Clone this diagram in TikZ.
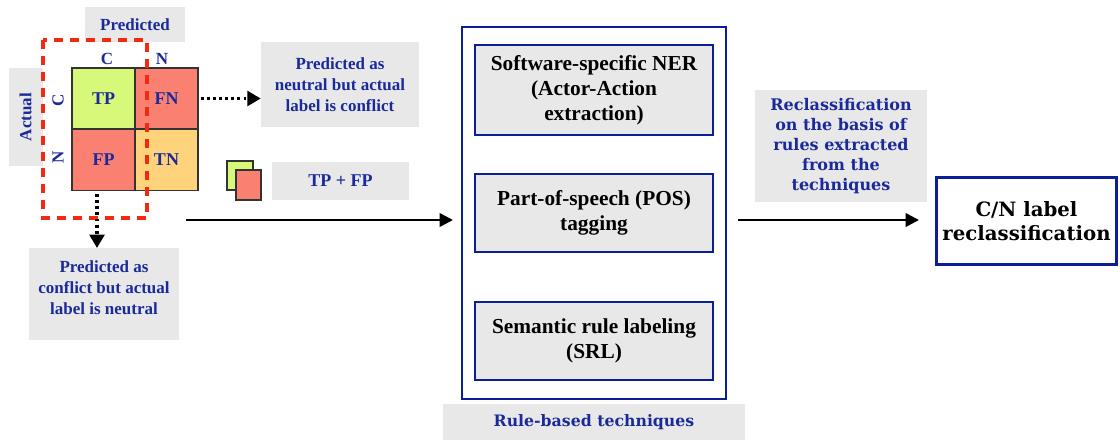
\documentclass[tikz,border=0pt]{standalone}
\usepackage{fontspec}
\setmainfont{Liberation Serif}
\newfontfamily\geo{DejaVu Serif}
\usetikzlibrary{arrows.meta}
\definecolor{gbg}{HTML}{E8E8E8}
\definecolor{tblue}{HTML}{1A2A9A}
\definecolor{bblue}{HTML}{0A1E96}
\definecolor{cgreen}{HTML}{D8F87A}
\definecolor{csalmon}{HTML}{FA8072}
\definecolor{corange}{HTML}{FFD27C}
\definecolor{dred}{HTML}{F22A10}
\tikzset{
  gbox/.style={fill=gbg, draw=none, inner sep=0pt, align=center, text=tblue,
    font=\fontsize{12.75pt}{15.75pt}\selectfont\bfseries},
  ibox/.style={fill=gbg, draw=bblue, line width=2.2pt, inner sep=0pt, align=center,
    font=\fontsize{16pt}{18.75pt}\selectfont\bfseries, minimum width=178.5pt},
  cell/.style={draw=black!80, line width=0.9pt, minimum width=47.25pt, minimum height=45.75pt,
    inner sep=0pt, text=tblue, font=\fontsize{13.5pt}{16pt}\selectfont\bfseries},
  mlabel/.style={text=tblue, inner sep=0pt, font=\fontsize{12.75pt}{15pt}\selectfont\bfseries},
  dotarrow/.style={line width=2.6pt, dash pattern=on 2.2pt off 2.4pt,
    -{Triangle[length=10pt,width=11pt]}},
  solarrow/.style={line width=1.9pt, -{Triangle[length=10pt,width=10pt]}},
  sq/.style={draw=black!80, line width=1pt}
}
\begin{document}
\begin{tikzpicture}[x=0.75pt,y=-0.75pt]
\useasboundingbox (0,0) rectangle (1120,440);
% Predicted / Actual labels
\node[gbox, minimum width=75pt, minimum height=26.25pt] (pred) at (135,24.5) {Predicted};
\node[gbox, minimum width=25.5pt, minimum height=73.5pt] (act) at (25.5,117) {};
\node[mlabel, rotate=90] (acttxt) at (act.center) {Actual};
% matrix
\node[cell, fill=cgreen] (tp) at (103.5,98.5) {TP};
\node[cell, fill=csalmon] (fn) at (166.5,98.5) {FN};
\node[cell, fill=csalmon] (fp) at (103.5,160) {FP};
\node[cell, fill=corange] (tn) at (166.5,160) {TN};
\node[mlabel] (pc) at (107,59) {C};
\node[mlabel] (pn) at (162,59) {N};
\node[mlabel, rotate=90] (ac) at (58,100) {C};
\node[mlabel, rotate=90] (an) at (58,157) {N};
% red dashed rectangle
\draw[dred, line width=2.6pt, dash pattern=on 7pt off 5pt] (43,40) rectangle (147,218);
% gray boxes with notes
\node[gbox, minimum width=118.5pt, minimum height=63.75pt] (n1) at (340,84.5)
  {Predicted as\\neutral but actual\\label is conflict};
\node[gbox, minimum width=102.75pt, minimum height=28.5pt, font=\fontsize{13.5pt}{16pt}\selectfont\bfseries] (tpfp) at (340.5,181) {TP + FP};
\node[gbox, minimum width=112.5pt, minimum height=69pt, anchor=north] (n2) at (104,248) {};
\node[gbox, fill=none] (n2t) at ([yshift=5.25pt]n2.center)
  {Predicted as\\conflict but actual\\label is neutral};
% small squares
\draw[sq, fill=cgreen] (227,161) rectangle (253,190);
\draw[sq, fill=csalmon] (236,170) rectangle (261,200);
% dotted arrows
\draw[dotarrow] (fn.east) ++(2,0) coordinate (fne) -- (n1.west |- fne);
\draw[dotarrow] (97,194) coordinate (fps) -- (n2.north -| fps);
% rule-based techniques
\draw[bblue, line width=1.9pt] (462,27) rectangle (726,399);
\coordinate (outw) at (462,220);
\coordinate (oute) at (726,220);
\node[ibox, minimum height=67.5pt] (ner) at (594,90) {Software-specific NER\\(Actor-Action\\extraction)};
\node[ibox, minimum height=58.5pt] (pos) at (594,213) {Part-of-speech (POS)\\tagging};
\node[ibox, minimum height=58.5pt] (srl) at (594,341) {Semantic rule labeling\\(SRL)};
\node[gbox, minimum width=226.5pt, minimum height=27pt, font=\geo\fontsize{11.8pt}{14pt}\selectfont\bfseries] (rbt) at (594,422) {Rule-based techniques};
% input arrow
\coordinate (ins) at (186,220);
\draw[solarrow, shorten >=6.75pt] (ins) -- (outw);
% reclass
\node[gbox, minimum width=129pt, minimum height=84pt, font=\geo\fontsize{12pt}{15pt}\selectfont\bfseries] (rc) at (841,146)
  {Reclassification\\on the basis of\\rules extracted\\from the\\techniques};
\node[draw=bblue, line width=2.2pt, fill=white, minimum width=135pt, minimum height=65pt, inner sep=0pt,
  align=center, font=\geo\fontsize{14.8pt}{17.5pt}\selectfont\bfseries] (cn) at (1026.5,221) {C/N label\\reclassification};
\draw[solarrow, shorten <=9pt, shorten >=12pt] (oute) -- (cn.west |- oute);
\end{tikzpicture}
\end{document}
